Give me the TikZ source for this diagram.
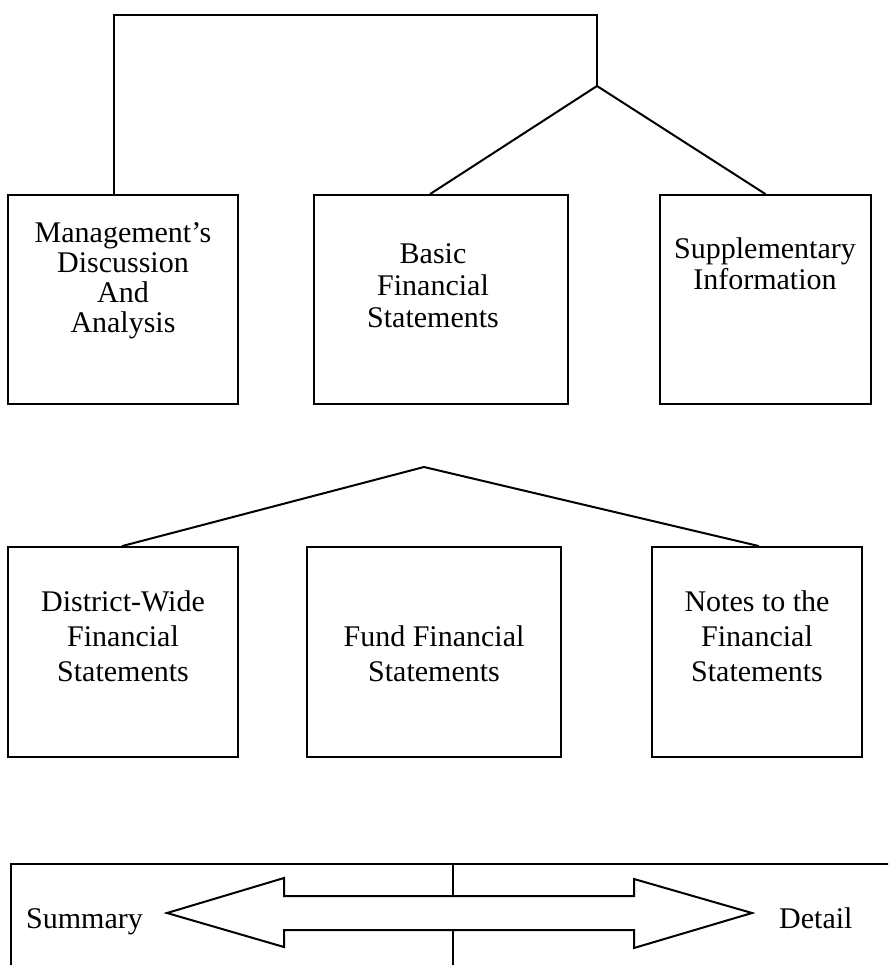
\documentclass[tikz,border=0pt]{standalone}
\usepackage{fontspec}
\setmainfont{Liberation Serif}
\begin{document}
\begin{tikzpicture}[x=1pt,y=-1pt,
  box/.style={draw, line width=1.8pt, rectangle, inner sep=0pt},
  lbl/.style={align=center, inner sep=0pt, anchor=north},
  conn/.style={line width=2pt, line join=miter}]
\clip (0,0) rectangle (888,965);
\fill[white] (0,0) rectangle (888,965);
% row 1 boxes
\node[box, minimum width=230pt, minimum height=209pt] (b1) at (123,299.5) {};
\node[box, minimum width=254pt, minimum height=209pt] (b2) at (441,299.5) {};
\node[box, minimum width=211pt, minimum height=209pt] (b3) at (765.5,299.5) {};
\node[lbl, font=\fontsize{30}{30}\selectfont] (t1) at (123,222) {Management's\\Discussion\\And\\Analysis};
\node[lbl, font=\fontsize{30}{32}\selectfont] (t2) at (433,243) {Basic\\Financial\\Statements};
\node[lbl, font=\fontsize{30}{31}\selectfont] (t3) at (765,237) {Supplementary\\Information};
% top connectors
\coordinate (top1) at (114,15);
\coordinate (top2) at (597,15);
\coordinate (apex1) at (597,86);
\draw[conn] (b1.north -| top1) -- (top1) -- (top2) -- (apex1);
\draw[conn] ([xshift=-11pt]b2.north) -- (apex1) -- (b3.north);
% row 2 boxes
\node[box, minimum width=230pt, minimum height=210pt] (b4) at (123,652) {};
\node[box, minimum width=254pt, minimum height=210pt] (b5) at (434,652) {};
\node[box, minimum width=210pt, minimum height=210pt] (b6) at (757,652) {};
\node[lbl, font=\fontsize{30}{35}\selectfont] (t4) at (123,590) {District-Wide\\Financial\\Statements};
\node[lbl, font=\fontsize{30}{35}\selectfont] (t5) at (434,625) {Fund Financial\\Statements};
\node[lbl, font=\fontsize{30}{35}\selectfont] (t6) at (757,590) {Notes to the\\Financial\\Statements};
\coordinate (apex2) at (424,467);
\draw[conn] ([xshift=-1pt]b4.north) -- (apex2) -- ([xshift=2pt]b6.north);
% bottom frame
\coordinate (frL) at (11,980);
\coordinate (frT) at (11,864);
\coordinate (frR) at (900,864);
\draw[line width=2pt] (frL) -- (frT) -- (frR);
% double arrow
\coordinate (tipL) at (167,913);
\coordinate (tipR) at (752,913);
\draw[line width=2pt, line join=miter] (tipL) -- (284,878) -- (284,896) -- (634,896) -- (634,879)
  -- (tipR) -- (634,948) -- (634,930) -- (284,930) -- (284,947) -- cycle;
\coordinate (midT) at (453,896);
\coordinate (midB) at (453,930);
\draw[line width=1.8pt] (frT -| midT) -- (midT);
\draw[line width=1.8pt] (midB) -- (453,980);
\node[anchor=base west, inner sep=0pt, font=\fontsize{30}{30}\selectfont] (sum) at (26,928) {Summary};
\node[anchor=base west, inner sep=0pt, font=\fontsize{30}{30}\selectfont] (det) at (779,928) {Detail};
\end{tikzpicture}
\end{document}
